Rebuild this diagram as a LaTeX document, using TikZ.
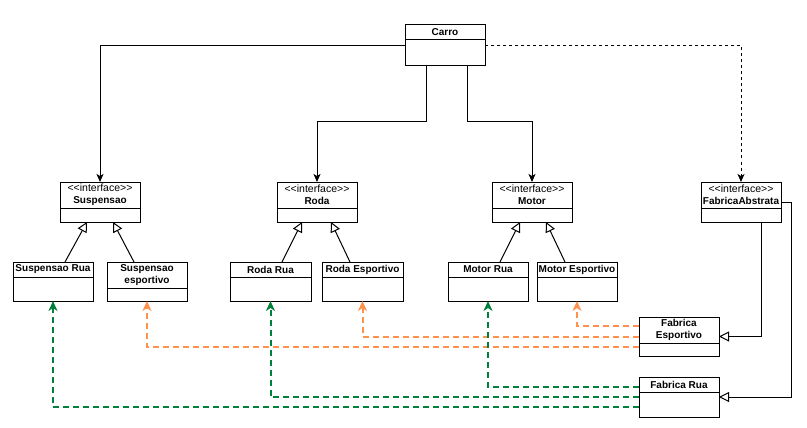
\documentclass[tikz,border=0pt]{standalone}
\usepackage{fontspec}
\setmainfont{Liberation Sans}
\usetikzlibrary{arrows.meta}
\definecolor{esp}{RGB}{255,145,77}
\definecolor{rua}{RGB}{0,128,58}
\newcommand{\umlclass}[7]{%
  \node[clsbox, minimum width=#4pt, minimum height=#5pt, anchor=north west] (#1) at (#2,#3) {};
  \draw[line width=1pt] ([yshift=-#6pt]#1.north west) -- ([yshift=-#6pt]#1.north east);
  \node[clstitle] (#1-t) at ([yshift=-0.5*#6pt]#1.north) {#7};
}
\newcommand{\ifc}{{\mdseries\fontsize{10.5}{12}\selectfont <{}<interface>{}>}\\}
\begin{document}
\begin{tikzpicture}[x=1pt,y=-1pt,
  clsbox/.style={draw, line width=1pt, fill=white, inner sep=0pt, outer sep=0pt},
  clstitle/.style={font=\fontsize{10}{12}\selectfont\bfseries, align=center, inner sep=0pt},
  assoc/.style={draw, line width=1pt, -{Stealth[length=8pt,width=7pt,inset=2pt]}},
  depend/.style={assoc, dash pattern=on 3pt off 3pt},
  inherit/.style={draw, line width=1pt, -{Triangle[open,length=10pt,width=10pt,fill=white]}},
  create/.style={draw, line width=2pt, dash pattern=on 6pt off 4pt, -{Stealth[length=10pt,width=9pt,inset=3pt]}},
  createesp/.style={create, color=esp},
  createrua/.style={create, color=rua}]
\useasboundingbox (0,0) rectangle (807,428);

% classes
\umlclass{carro}{405}{25}{80}{41}{15}{Carro}
\umlclass{susp}{60}{182}{80}{40}{26}{\ifc Suspensao}
\umlclass{roda}{277}{182}{80}{40}{26}{\ifc Roda}
\umlclass{motor}{492}{182}{80}{40}{26}{\ifc Motor}
\umlclass{fababs}{701}{182}{80}{40}{26}{\ifc FabricaAbstrata}
\umlclass{susprua}{13}{262}{80}{39}{15}{Suspensao Rua}
\umlclass{suspesp}{107}{262}{80}{39}{26}{Suspensao\\esportivo}
\umlclass{rodarua}{230}{262}{81}{39}{15}{Roda Rua}
\umlclass{rodaesp}{322}{262}{81}{39}{15}{Roda Esportivo}
\umlclass{motorrua}{448}{262}{80}{39}{15}{Motor Rua}
\umlclass{motoresp}{537}{262}{80}{39}{15}{Motor Esportivo}
\umlclass{fabesp}{639}{317}{80}{39}{26}{Fabrica\\Esportivo}
\umlclass{fabrua}{639}{377}{80}{40}{15}{Fabrica Rua}

% Carro associations
\draw[assoc] (carro.west) -| (susp.north);
\draw[assoc] ([xshift=21pt]carro.south west) -- ++(0,56) -| (roda.north);
\draw[assoc] ([xshift=62pt]carro.south west) -- ++(0,56) -| (motor.north);
\draw[depend] (carro.east) -| (fababs.north);

% inheritance
\draw[inherit] ([xshift=52pt]susprua.north west) -- ([xshift=27pt]susp.south west);
\draw[inherit] ([xshift=27pt]suspesp.north west) -- ([xshift=53pt]susp.south west);
\draw[inherit] ([xshift=52pt]rodarua.north west) -- ([xshift=25pt]roda.south west);
\draw[inherit] ([xshift=28pt]rodaesp.north west) -- ([xshift=54pt]roda.south west);
\draw[inherit] ([xshift=52pt]motorrua.north west) -- ([xshift=28pt]motor.south west);
\draw[inherit] ([xshift=28pt]motoresp.north west) -- ([xshift=54pt]motor.south west);
\draw[inherit] ([xshift=60pt]fababs.south west) |- (fabesp.east);
\draw[inherit] (fababs.east) -- ++(10,0) |- (fabrua.east);

% factory creations
\draw[createesp] ([yshift=11pt]fabesp.west) -| (motoresp.south);
\draw[createesp] (fabesp.west) -| (rodaesp.south);
\draw[createesp] ([yshift=-10pt]fabesp.west) -| (suspesp.south);
\draw[createrua] ([yshift=10pt]fabrua.west) -| (motorrua.south);
\draw[createrua] (fabrua.west) -| (rodarua.south);
\draw[createrua] ([yshift=-10pt]fabrua.west) -| (susprua.south);
\end{tikzpicture}
\end{document}
